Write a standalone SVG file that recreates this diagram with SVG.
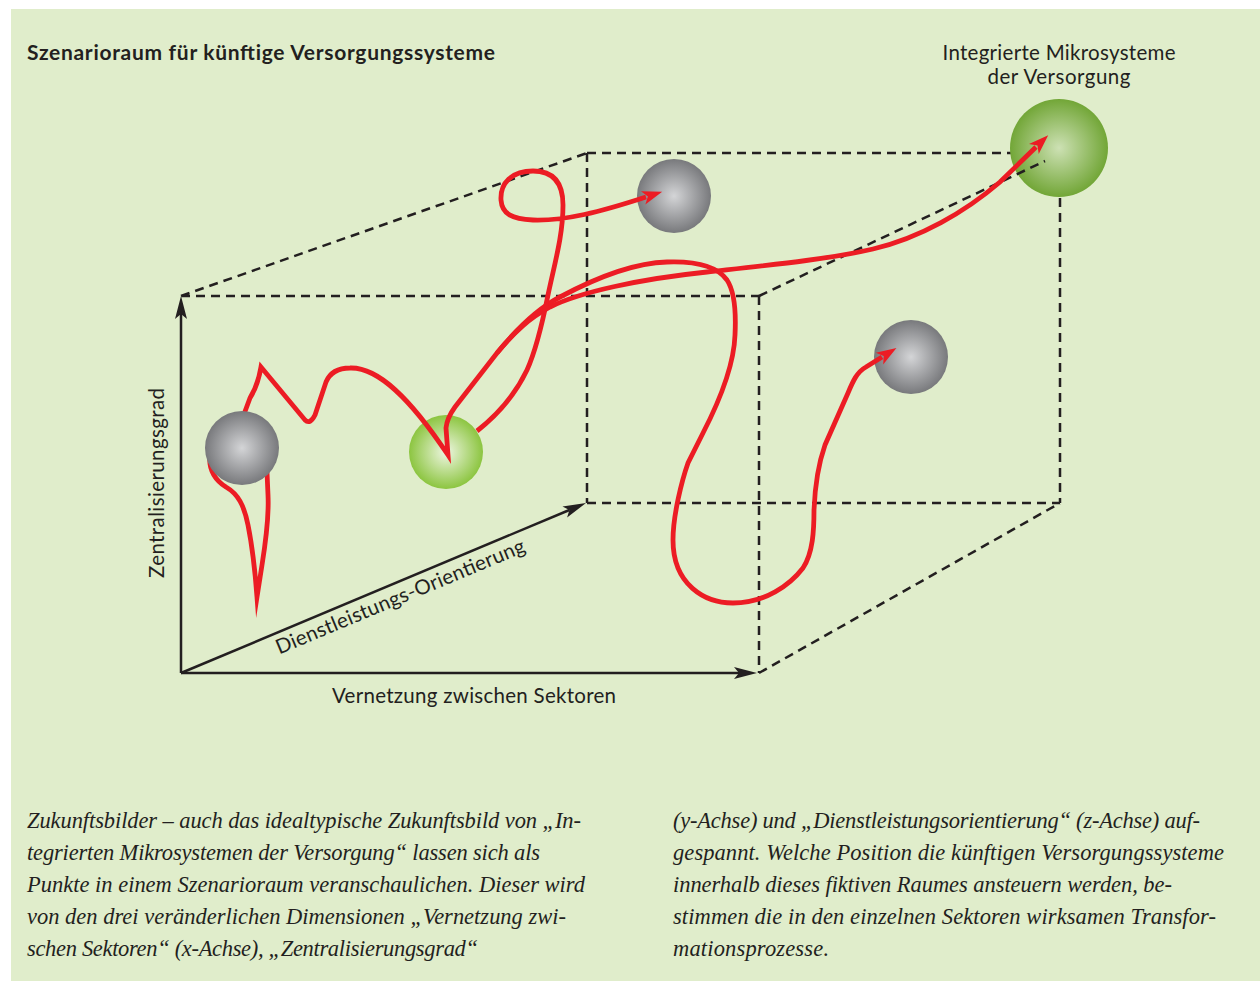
<svg xmlns="http://www.w3.org/2000/svg" width="1260" height="982" viewBox="0 0 1260 982">
<defs>
<radialGradient id="gGray" cx="50%" cy="50%" r="50%">
<stop offset="0" stop-color="#d4d5d7"/>
<stop offset="1" stop-color="#78797c"/>
</radialGradient>
<radialGradient id="gLight" cx="50%" cy="50%" r="50%">
<stop offset="0" stop-color="#eef6e2"/>
<stop offset="1" stop-color="#8cc540"/>
</radialGradient>
<radialGradient id="gDark" cx="50%" cy="50%" r="50%">
<stop offset="0" stop-color="#cde1b4"/>
<stop offset="1" stop-color="#72a637"/>
</radialGradient>
<marker id="ab" markerUnits="userSpaceOnUse" markerWidth="26" markerHeight="16" refX="5" refY="0" viewBox="0 -8 26 16" orient="auto" overflow="visible">
<path d="M0,-6 L23,0 L0,6 L5,0 Z" fill="#231f20"/>
</marker>
<marker id="ar" markerUnits="userSpaceOnUse" markerWidth="24" markerHeight="18" refX="3" refY="0" viewBox="0 -9 24 18" orient="auto" overflow="visible">
<path d="M0,-7 L20,0 L0,7 L5,0 Z" fill="#ec1c24"/>
</marker>
<style>
.dash{fill:none;stroke:#231f20;stroke-width:2.5;stroke-dasharray:9 6}
.axis{fill:none;stroke:#231f20;stroke-width:2.5;marker-end:url(#ab)}
.red{fill:none;stroke:#ec1c24;stroke-width:4.8;stroke-miterlimit:30;stroke-linejoin:miter}
.lab{font-family:Lato,"Open Sans",sans-serif;font-size:20.5px;fill:#231f20}
.title{font-family:Lato,"Open Sans",sans-serif;font-size:21px;font-weight:bold;fill:#231f20}
.cap{font-family:"Liberation Serif",serif;font-style:italic;font-size:22.5px;fill:#231f20}
</style>
</defs>
<rect x="11" y="9" width="1249" height="972" fill="#e0edcb"/>
<text class="title" x="27" y="60" textLength="468">Szenarioraum für künftige Versorgungssysteme</text>
<g id="cube">
<path class="dash" d="M181,296 L587,153 M181,296 L759,296 M759,296 L759,673 M587,153 L1060,153 M587,153 L587,503 M587,503 L1060,503 M1060,153 L1060,503 M759,673 L1060,503"/>
</g>
<g id="axes">
<line class="axis" x1="181" y1="673" x2="181" y2="314"/>
<line class="axis" x1="181" y1="673" x2="739" y2="673"/>
<line class="axis" x1="181" y1="673" x2="569.4" y2="510"/>
</g>
<g id="node-integrierte">
<circle cx="1059" cy="148" r="49" fill="url(#gDark)"/>
</g>
<g id="cube-front-diagonal">
<path class="dash" d="M759,296 L1045,161"/>
</g>
<g id="node-mid-green">
<circle cx="446" cy="452" r="37" fill="url(#gLight)"/>
</g>
<g id="node-top-gray">
<circle cx="674" cy="196" r="37" fill="url(#gGray)"/>
</g>
<g id="node-right-gray">
<circle cx="911" cy="357" r="37" fill="url(#gGray)"/>
</g>
<g id="connectors">
<path class="red" d="M212,445 C206,465 212,478 226,487 C238,494 244,505 248,525 C252,545 255,570 257,597 L262,565 C266,540 269,515 268,495 L267,472"/>
<path class="red" marker-end="url(#ar)" d="M240,425 L250,398 Q258,385 261,367 L305,420 Q310,425 315,415 Q320,400 326,382 Q332,368 350,368 C378,367 410,398 448,455 L446,428 Q447,418 455,407 L497,353 C515,331 535,310 560,297 C590,281 630,263 667,262 C695,261 717,266 727,280 C735,292 736,315 735,335 C734,365 720,400 703,433 L688,463 C682,480 673,515 673,540 C673,585 705,603 733,603 C765,603 790,585 803,568 C813,553 814,530 814,510 C815,485 818,465 825,445 L848,393 C853,381 857,372 866,367 L882,357"/>
<path class="red" marker-end="url(#ar)" d="M497,353 C515,331 530,318 550,307 C580,292 640,279 707,272 C770,265 830,259 873,249 C920,238 965,212 1000,182 L1036,147"/>
<path class="red" marker-end="url(#ar)" d="M477,431 C500,413 516,393 527,370 C537,348 543,320 548,295 C555,262 563,235 563,205 C563,185 555,171 533,171 C512,171 500,183 501,200 C502,214 512,219 533,220 C565,221 600,212 646,197"/>
</g>
<g id="node-left-gray">
<circle cx="242" cy="448" r="37" fill="url(#gGray)"/>
</g>
<g id="labels">
<text class="lab" x="1059" y="60" text-anchor="middle" textLength="233">Integrierte Mikrosysteme</text>
<text class="lab" x="1059" y="84" text-anchor="middle" textLength="143">der Versorgung</text>
<text class="lab" x="474" y="703" text-anchor="middle" textLength="284">Vernetzung zwischen Sektoren</text>
<text class="lab" transform="translate(164,483) rotate(-90)" text-anchor="middle" textLength="190">Zentralisierungsgrad</text>
<text class="lab" transform="translate(403,603) rotate(-22.6)" text-anchor="middle" textLength="268">Dienstleistungs-Orientierung</text>
</g>
<g id="caption">
<text class="cap" x="27" y="828" textLength="554">Zukunftsbilder – auch das idealtypische Zukunftsbild von „In-</text>
<text class="cap" x="27" y="860" textLength="513">tegrierten Mikrosystemen der Versorgung“ lassen sich als</text>
<text class="cap" x="27" y="892" textLength="558">Punkte in einem Szenarioraum veranschaulichen. Dieser wird</text>
<text class="cap" x="27" y="924" textLength="539">von den drei veränderlichen Dimensionen „Vernetzung zwi-</text>
<text class="cap" x="27" y="956" textLength="451">schen Sektoren“ (x-Achse), „Zentralisierungsgrad“</text>
<text class="cap" x="673" y="828" textLength="527">(y-Achse) und „Dienstleistungsorientierung“ (z-Achse) auf-</text>
<text class="cap" x="673" y="860" textLength="551">gespannt. Welche Position die künftigen Versorgungssysteme</text>
<text class="cap" x="673" y="892" textLength="499">innerhalb dieses fiktiven Raumes ansteuern werden, be-</text>
<text class="cap" x="673" y="924" textLength="543">stimmen die in den einzelnen Sektoren wirksamen Transfor-</text>
<text class="cap" x="673" y="956" textLength="156">mationsprozesse.</text>
</g>
</svg>
